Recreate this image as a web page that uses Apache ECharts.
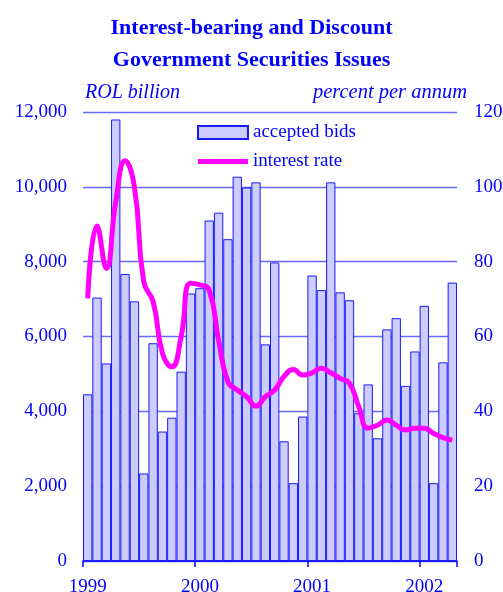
<!DOCTYPE html>
<html>
<head>
<meta charset="utf-8">
<script src="https://cdn.jsdelivr.net/npm/echarts@6/dist/echarts.min.js"></script>
<style>html,body{margin:0;padding:0;background:#fff}#c{width:503px;height:592px}</style>
</head>
<body>
<div id="c"></div>
<script>
// Months Jan 1999 .. Apr 2002
const categories = [];
for (const y of [1999, 2000, 2001, 2002]) {
  for (let m = 1; m <= 12; m++) {
    if (y === 2002 && m > 4) break;
    categories.push(y + '-' + (m < 10 ? '0' + m : m));
  }
}
const acceptedBids = [
  4455, 7040, 5280, 11800, 7670, 6940, 2340, 5820, 3460, 3830, 5060, 7150,
  7290, 9100, 9310, 8600, 10270, 9980, 10120, 5790, 7980, 3200, 2080, 3860,
  7630, 7240, 10120, 7180, 6970, 3950, 4720, 3280, 6190, 6490, 4680, 5600,
  6820, 2080, 5310, 7440
];
const interestRate = [
  70.2, 89.5, 78.2, 96, 107, 100, 74.6, 69.3, 55.5, 51.9, 60, 74.2,
  73.8, 72.4, 59, 47.9, 45.7, 43.9, 41.4, 43.9, 45.7, 49.3, 51.2, 49.7,
  50.3, 51.5, 50.3, 48.8, 47.5, 41.2, 35.5, 36.3, 37.7, 36.3, 35, 35.5,
  35.5, 34.1, 33, 32.3
];
const yearLabels = ['1999', '2000', '2001', '2002'];
const leftTicks = [0, 2000, 4000, 6000, 8000, 10000, 12000];
const rightTicks = [0, 20, 40, 60, 80, 100, 120];

const BLUE = '#0000ff';
const FONT = '"Liberation Serif", "DejaVu Serif", serif';

const chart = echarts.init(document.getElementById('c'), null, {renderer: 'canvas'});
chart.setOption({
  animation: false,
  backgroundColor: '#ffffff',
  title: [
    {
      text: 'Interest-bearing and Discount\nGovernment Securities Issues',
      left: 'center', top: 12, padding: 0,
      textStyle: {color: BLUE, fontFamily: FONT, fontWeight: 'bold', fontSize: 22, lineHeight: 32}
    },
    {
      text: 'ROL billion', left: 85, top: 83, padding: 0,
      textStyle: {color: BLUE, fontFamily: FONT, fontStyle: 'italic', fontWeight: 'normal', fontSize: 20}
    },
    {
      text: 'percent per annum', right: 36, top: 83, padding: 0,
      textStyle: {color: BLUE, fontFamily: FONT, fontStyle: 'italic', fontWeight: 'normal', fontSize: 20.5}
    }
  ],
  legend: {
    orient: 'vertical', left: 197, top: 123, padding: 0,
    itemWidth: 50, itemHeight: 13, itemGap: 10,
    textStyle: {color: BLUE, fontFamily: FONT, fontSize: 19},
    data: [
      {name: 'accepted bids', icon: 'rect'},
      {name: 'interest rate', icon: 'path://M0,0 L50,0 L50,5 L0,5 Z', itemStyle: {color: '#ff00ff', borderWidth: 0}}
    ]
  },
  grid: {left: 83, right: 46, top: 112, bottom: 31, containLabel: false, outerBoundsMode: 'none'},
  xAxis: {
    type: 'category', data: categories, boundaryGap: true,
    axisLine: {lineStyle: {color: BLUE, width: 1.5}},
    axisTick: {
      show: true, alignWithLabel: false, length: 6,
      interval: (i) => i % 12 === 0,
      lineStyle: {color: BLUE, width: 1.5}
    },
    axisLabel: {
      interval: (i) => i % 12 === 0,
      formatter: (v, i) => yearLabels[Math.floor(i / 12)],
      color: BLUE, fontFamily: FONT, fontSize: 19, margin: 17
    },
    splitLine: {show: false}
  },
  yAxis: [
    {
      type: 'value', min: leftTicks[0], max: leftTicks[leftTicks.length - 1], interval: 2000,
      axisLine: {show: false}, axisTick: {show: false},
      axisLabel: {
        color: BLUE, fontFamily: FONT, fontSize: 19, margin: 16,
        formatter: (v) => v.toLocaleString('en-US')
      },
      splitLine: {show: true, lineStyle: {color: '#6a6aff', width: 1.3}}
    },
    {
      type: 'value', min: rightTicks[0], max: rightTicks[rightTicks.length - 1], interval: 20,
      axisLine: {show: false}, axisTick: {show: false},
      axisLabel: {color: BLUE, fontFamily: FONT, fontSize: 19, margin: 17},
      splitLine: {show: false}
    }
  ],
  series: [
    {
      name: 'accepted bids', type: 'bar', data: acceptedBids, yAxisIndex: 0,
      barCategoryGap: '0%', barGap: '0%',
      itemStyle: {color: '#ccccff', borderColor: '#1a1aff', borderWidth: 1}
    },
    {
      name: 'interest rate', type: 'line', data: interestRate, yAxisIndex: 1,
      smooth: 0.5, symbol: 'none', showSymbol: false,
      lineStyle: {color: '#ff00ff', width: 5},
      itemStyle: {color: '#ff00ff'}
    }
  ]
});
</script>
</body>
</html>
